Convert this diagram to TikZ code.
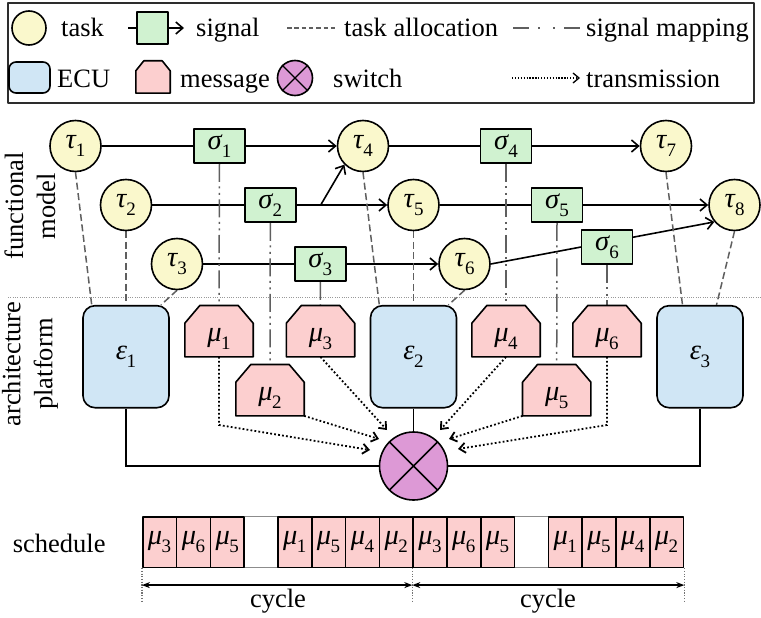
\documentclass[tikz,border=0pt]{standalone}
\usepackage{fontspec}
\setmainfont{Liberation Serif}
\usetikzlibrary{arrows.meta,calc}
\pgfdeclarelayer{bg}
\pgfsetlayers{bg,main}
\definecolor{taskc}{RGB}{250,248,204}
\definecolor{sigc}{RGB}{208,242,208}
\definecolor{ecuc}{RGB}{208,230,245}
\definecolor{msgc}{RGB}{252,207,207}
\definecolor{swc}{RGB}{221,153,214}
\definecolor{lgray}{RGB}{95,95,95}
\definecolor{legc}{RGB}{45,45,45}
\newcommand\myfs{\fontsize{26.5}{32}\selectfont}
\newcommand\mygfs{\fontsize{28.5}{32}\selectfont}
\newcommand\gksub[2]{\textit{#1}\kern-0.02em\raisebox{-0.27em}{\fontsize{19}{19}\selectfont #2}}
\newcommand\msgat[4]{%
  \node[msgn] (#1) at (#2,#3) {};
  \draw[msgshape] (#1.south west) -- ($(#1.north west)+(0,17.7)$) -- ($(#1.north west)+(15,0)$) -- ($(#1.north east)+(-15,0)$) -- ($(#1.north east)+(0,17.7)$) -- (#1.south east) -- cycle;
  \node[lbl] (#1l) at ($(#1)+(0,8)$) {#4};}
\begin{document}
\begin{tikzpicture}[x=1pt,y=-1pt,line join=round,
  every node/.style={font=\myfs, inner sep=0pt},
  task/.style={circle, draw=black, fill=taskc, line width=1.6pt, minimum size=51pt, font=\mygfs},
  sig/.style={rectangle, draw=black, fill=sigc, line width=1.6pt, minimum width=51pt, minimum height=34pt, font=\mygfs},
  ecu/.style={rectangle, rounded corners=12pt, draw=black, fill=ecuc, line width=1.6pt, minimum width=86pt, minimum height=102pt, font=\mygfs},
  msgn/.style={rectangle, minimum width=68pt, minimum height=51pt},
  msgshape/.style={draw=black, fill=msgc, line width=1.6pt},
  lbl/.style={font=\mygfs},
  swn/.style={circle, draw=black, fill=swc, line width=1.6pt, minimum size=68pt},
  sigline/.style={line width=1.6pt, draw=black},
  arr/.style={-{Straight Barb[length=7pt,width=12pt]}},
  alloc/.style={line width=1.5pt, draw=lgray, dash pattern=on 7pt off 3.5pt},
  smap/.style={line width=1.5pt, draw=lgray, dash pattern=on 18pt off 4.5pt on 2pt off 4.5pt on 2pt off 4.5pt},
  trans/.style={line width=1.8pt, draw=black, dash pattern=on 1.8pt off 2.2pt, -{Straight Barb[length=6pt,width=10pt]}},
  bus/.style={line width=2.6pt, draw=black},
  cell/.style={rectangle, draw=black, fill=msgc, line width=1.6pt, minimum width=33.8pt, minimum height=50.6pt, font=\mygfs},
  blank/.style={rectangle, draw=black!45, fill=white, line width=1.2pt, minimum width=33.8pt, minimum height=50.6pt},
  cyc/.style={line width=1.4pt, draw=black, {Stealth[length=8pt,width=6pt]}-{Stealth[length=8pt,width=6pt]}},
  tick/.style={line width=1.2pt, draw=black!55, dash pattern=on 1.2pt off 1.5pt},
  sepline/.style={line width=1pt, draw=black!40, dash pattern=on 1pt off 1.3pt}
]
\useasboundingbox (0,0) rectangle (761,618);

% ---------------- legend ----------------
\draw[line width=1.5pt, draw=legc] (8,3) rectangle (754,103);
\node[task, minimum size=34pt] (Lt) at (29,28) {};
\node[anchor=base west] (Ltt) at (61,37) {task};
\node[sig, minimum width=31pt, minimum height=32pt] (Ls) at (152.5,28) {};
\coordinate (Ls0) at (128,28); \coordinate (Ls1) at (184,28);
\draw[sigline] (Ls0) -- (Ls.west);
\draw[sigline,arr] (Ls.east) -- (Ls1);
\node[anchor=base west] (Lst) at (196,37) {signal};
\coordinate (La0) at (287,28); \coordinate (La1) at (338,28);
\draw[alloc, line width=1.2pt, dash pattern=on 4.5pt off 2.8pt] (La0) -- (La1);
\node[anchor=base west] (Lat) at (344,37) {task allocation};
\coordinate (Lm0) at (513,28); \coordinate (Lm1) at (580,28);
\draw[smap, dash pattern=on 16pt off 9pt on 2pt off 13pt on 2pt off 9pt] (Lm0) -- (Lm1);
\node[anchor=base west] (Lmt) at (586,37) {signal mapping};

\node[ecu, minimum width=41pt, minimum height=31pt, rounded corners=7pt] (Le) at (29.5,77.5) {};
\node[anchor=base west] (Let) at (57,87.5) {ECU};
\node[rectangle, minimum width=34pt, minimum height=32pt] (Lm) at (153,77) {};
\draw[msgshape] (Lm.south west) -- ($(Lm.north west)+(0,10)$) -- ($(Lm.north west)+(8,0)$) -- ($(Lm.north east)+(-8,0)$) -- ($(Lm.north east)+(0,10)$) -- (Lm.south east) -- cycle;
\node[anchor=base west] (Lmg) at (180,87.5) {message};
\node[swn, minimum size=35pt] (Lw) at (295,78) {};
\draw[line width=1.4pt] (Lw.45) -- (Lw.225) (Lw.135) -- (Lw.315);
\node[anchor=base west] (Lwt) at (333,87.5) {switch};
\coordinate (Lx0) at (512,78); \coordinate (Lx1) at (580,78);
\draw[trans, line width=1.3pt, dash pattern=on 1.3pt off 1.6pt] (Lx0) -- (Lx1);
\node[anchor=base west] (Ltr) at (586,87.5) {transmission};

% ---------------- side labels ----------------
\node[rotate=90, align=center] (fm) at (30,206) {functional\\model};
\node[rotate=90, align=center] (ap) at (30,364) {architecture\\platform};

% ---------------- functional model ----------------
\node[task] (t1) at (75.5,146) {\gksub{τ}{1}};
\node[task] (t2) at (126,205) {\gksub{τ}{2}};
\node[task] (t3) at (177,264) {\gksub{τ}{3}};
\node[task] (t4) at (363,146) {\gksub{τ}{4}};
\node[task] (t5) at (413.5,205) {\gksub{τ}{5}};
\node[task] (t6) at (464.5,264) {\gksub{τ}{6}};
\node[task] (t7) at (666,146) {\gksub{τ}{7}};
\node[task] (t8) at (734.5,205) {\gksub{τ}{8}};

\node[sig] (s1) at (219.5,146) {\gksub{σ}{1}};
\node[sig] (s2) at (270.3,205) {\gksub{σ}{2}};
\node[sig] (s3) at (320.3,264) {\gksub{σ}{3}};
\node[sig] (s4) at (506,146) {\gksub{σ}{4}};
\node[sig] (s5) at (557,205) {\gksub{σ}{5}};
\node[sig] (s6) at (607,247) {\gksub{σ}{6}};

% ---------------- architecture ----------------
\node[ecu] (e1) at (126,356.7) {\gksub{ε}{1}};
\node[ecu] (e2) at (413.5,356.7) {\gksub{ε}{2}};
\node[ecu] (e3) at (700,356.7) {\gksub{ε}{3}};

\msgat{m1}{219}{331.2}{\gksub{μ}{1}}
\msgat{m2}{270}{390.2}{\gksub{μ}{2}}
\msgat{m3}{320.5}{331.2}{\gksub{μ}{3}}
\msgat{m4}{506}{331.2}{\gksub{μ}{4}}
\msgat{m5}{556.7}{390.2}{\gksub{μ}{5}}
\msgat{m6}{607}{331.2}{\gksub{μ}{6}}

\node[swn] (sw) at (413.5,466) {};
\draw[line width=1.6pt] (sw.45) -- (sw.225) (sw.135) -- (sw.315);

% ---------------- connectors ----------------
\begin{pgfonlayer}{bg}
\draw[sepline] (8,297.3) -- (761,297.3);
% signals
\draw[sigline] (t1.east) -- (s1.west);
\draw[sigline,arr] (s1.east) -- (t4.west);
\draw[sigline] (t2.east) -- (s2.west);
\draw[sigline,arr] (s2.east) -- (t5.west);
\coordinate (b2) at (320.7,205);
\draw[sigline,arr] (b2) -- (t4.225);
\draw[sigline] (t3.east) -- (s3.west);
\draw[sigline,arr] (s3.east) -- (t6.west);
\draw[sigline] (t4.east) -- (s4.west);
\draw[sigline,arr] (s4.east) -- (t7.west);
\draw[sigline] (t5.east) -- (s5.west);
\draw[sigline,arr] (s5.east) -- (t8.west);
\draw[sigline,arr] (t6.east) -- (t8.220);
% task allocation
\draw[alloc] (t1.south) -- ($(e1.north)+(-34.3,0)$);
\draw[alloc] (t2.south) -- (e1.north);
\draw[alloc] (t3.south) -- ($(e1.north)+(35,0)$);
\draw[alloc] (t4.south) -- ($(e2.north)+(-34.2,0)$);
\draw[alloc] (t5.south) -- (e2.north);
\draw[alloc] (t6.south) -- ($(e2.north)+(35,0)$);
\draw[alloc] (t7.south) -- ($(e3.north)+(-17.5,0)$);
\draw[alloc] (t8.south) -- ($(e3.north)+(16.5,0)$);
% signal mapping
\draw[smap] (s1.south) -- (m1.north);
\draw[smap] (s2.south) -- (m2.north);
\draw[smap] (s3.south) -- (m3.north);
\draw[smap] (s4.south) -- (m4.north);
\draw[smap] (s5.south) -- (m5.north);
\draw[smap] (s6.south) -- (m6.north);
% transmission
\coordinate (k1) at (219,425); \coordinate (k6) at (607,425);
\coordinate (a1) at (370,450); \coordinate (a2) at (379,439); \coordinate (a3) at (387,430);
\coordinate (a4) at (440,430); \coordinate (a5) at (449,439); \coordinate (a6) at (458,449);
\draw[trans] (m1.south) -- (k1) -- (a1);
\draw[trans] (m2.south east) -- (a2);
\draw[trans] (m3.south) -- (a3);
\draw[trans] (m4.south) -- (a4);
\draw[trans] (m5.south west) -- (a5);
\draw[trans] (m6.south) -- (k6) -- (a6);
% bus
\draw[bus] (e1.south) |- (sw.west);
\draw[bus] (e3.south) |- (sw.east);
\draw[sigline] (e2.south) -- (sw.north);
\end{pgfonlayer}

% ---------------- schedule ----------------
\node[anchor=base west] (sch) at (12.7,552) {schedule};
\foreach \lab [count=\i from 0] in {3,6,5,0,1,5,4,2,3,6,5,0,1,5,4,2} {
  \pgfmathsetmacro\cx{142.7+33.8*\i+16.9}
  \ifnum\lab=0 \node[blank] (c\i) at (\cx,542) {}; \fi
}
\foreach \lab [count=\i from 0] in {3,6,5,0,1,5,4,2,3,6,5,0,1,5,4,2} {
  \pgfmathsetmacro\cx{142.7+33.8*\i+16.9}
  \ifnum\lab=0 \else \node[cell] (c\i) at (\cx,542) {\gksub{μ}{\lab}}; \fi
}
\draw[tick] (c0.south west) -- ++(0,33);
\draw[tick] (c8.south west) -- ++(0,33);
\draw[tick] (c15.south east) -- ++(0,33);
\coordinate (q0) at ($(c0.south west)+(0,17)$);
\coordinate (q1) at ($(c8.south west)+(0,17)$);
\coordinate (q2) at ($(c15.south east)+(0,17)$);
\draw[cyc] (q0) -- (q1);
\draw[cyc] (q1) -- (q2);
\node[anchor=base] (cy1) at (278,607.5) {cycle};
\node[anchor=base] (cy2) at (548,607.5) {cycle};
\end{tikzpicture}
\end{document}
